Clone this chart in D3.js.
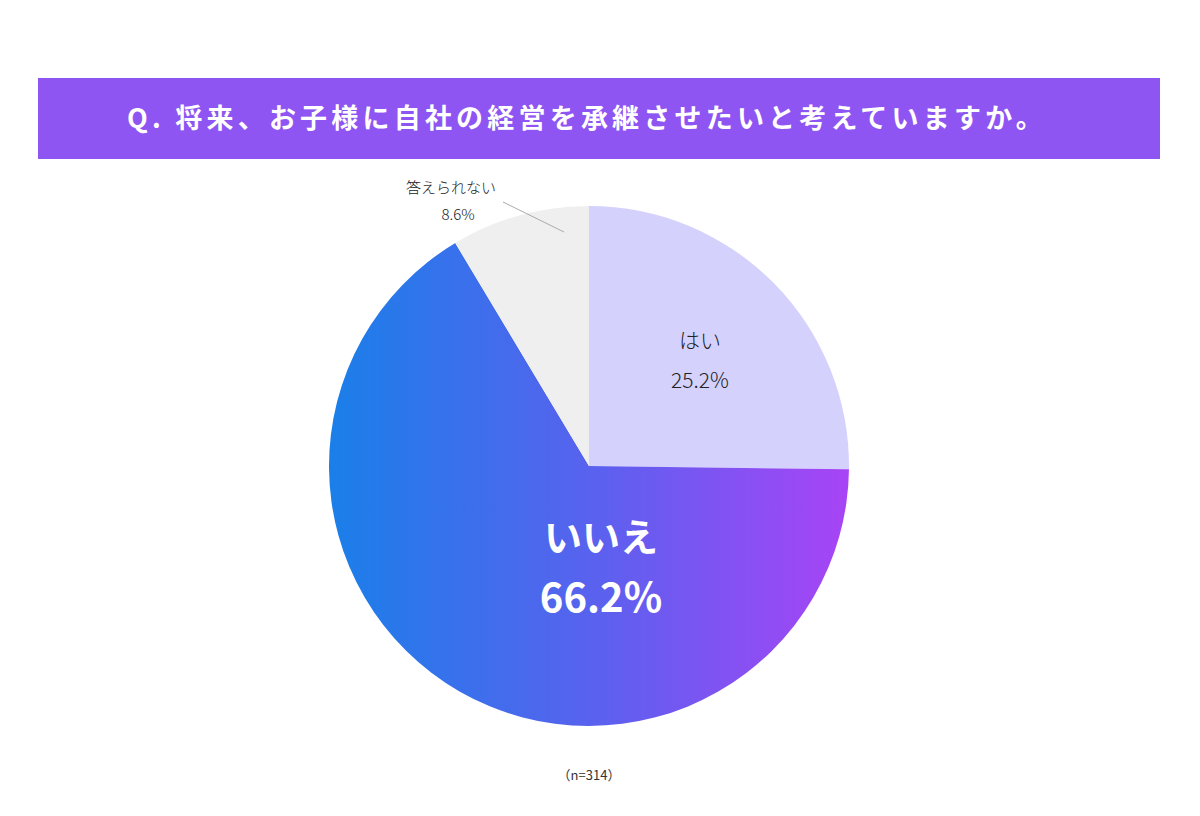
<!DOCTYPE html>
<html><head><meta charset="utf-8">
<script src="https://cdn.jsdelivr.net/npm/d3@7"></script>
<style>body{margin:0;background:#fff;}svg{display:block;font-family:"Noto Sans CJK JP","Noto Sans",sans-serif;}</style>
</head><body>
<script>
const title = "Q. 将来、お子様に自社の経営を承継させたいと考えていますか。";
const categories = ["はい", "いいえ", "答えられない"];
const values = [25.2, 66.2, 8.6];
const sampleNote = "（n=314）";

const W = 1200, H = 816;
const svg = d3.select("body").append("svg").attr("width", W).attr("height", H);
const defs = svg.append("defs");
const cx = 589, cy = 466, R = 260;

const grad = defs.append("linearGradient").attr("id", "gNo")
  .attr("gradientUnits", "userSpaceOnUse")
  .attr("x1", -R).attr("y1", 0).attr("x2", R).attr("y2", 0);
grad.append("stop").attr("offset", "0%").attr("stop-color", "#1a7fe9");
grad.append("stop").attr("offset", "50%").attr("stop-color", "#5862ee");
grad.append("stop").attr("offset", "100%").attr("stop-color", "#a844f5");

// banner
svg.append("rect").attr("x", 38).attr("y", 78).attr("width", 1122).attr("height", 81)
  .attr("fill", "#8e55f2");
svg.append("text").attr("x", 127).attr("y", 128).attr("fill", "#fff")
  .attr("font-size", 27).attr("font-weight", "bold").attr("letter-spacing", 4.2)
  .text(title);

const fills = ["#d4d2fd", "url(#gNo)", "#efefef"];
const pie = d3.pie().sort(null).value(d => d)(values);
const arc = d3.arc().innerRadius(0).outerRadius(R);
const g = svg.append("g").attr("transform", `translate(${cx},${cy})`);
g.selectAll("path").data(pie).join("path").attr("d", arc)
  .attr("fill", (d, i) => fills[i]);

// labels
const fmt = v => v.toFixed(1) + "%";
// はい
g.append("text").attr("x", 111).attr("y", -118).attr("text-anchor", "middle")
  .attr("font-size", 21).attr("font-weight", 300).attr("fill", "#222").text(categories[0]);
g.append("text").attr("x", 111).attr("y", -78).attr("text-anchor", "middle")
  .attr("font-size", 21).attr("font-weight", 300).attr("fill", "#222").text(fmt(values[0]));
// いいえ
g.append("text").attr("x", 12).attr("y", 85).attr("text-anchor", "middle")
  .attr("font-size", 38).attr("font-weight", "bold").attr("fill", "#fff").text(categories[1]);
g.append("text").attr("x", 12).attr("y", 146).attr("text-anchor", "middle")
  .attr("font-size", 40).attr("font-weight", "bold").attr("fill", "#fff").text(fmt(values[1]));
// 答えられない
g.append("line").attr("x1", -86).attr("y1", -264).attr("x2", -25).attr("y2", -234)
  .attr("stroke", "#aaa").attr("stroke-width", 1);
g.append("text").attr("x", -138).attr("y", -273).attr("text-anchor", "middle")
  .attr("font-size", 15).attr("font-weight", 300).attr("fill", "#222").text(categories[2]);
g.append("text").attr("x", -131).attr("y", -246).attr("text-anchor", "middle")
  .attr("font-size", 15).attr("font-weight", 300).attr("fill", "#222").text(fmt(values[2]));

svg.append("text").attr("x", 589).attr("y", 780).attr("text-anchor", "middle")
  .attr("font-size", 13).attr("fill", "#333").text(sampleNote);
</script>
</body></html>
